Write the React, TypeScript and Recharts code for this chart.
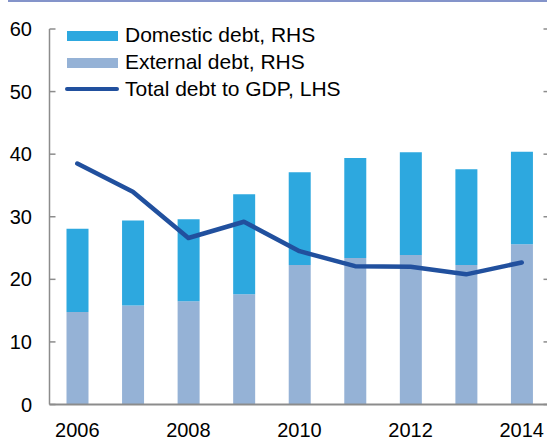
import React from 'react';
import { ComposedChart, Bar, Line, XAxis, YAxis } from 'recharts';

const years = ['2006', '2007', '2008', '2009', '2010', '2011', '2012', '2013', '2014'];
const externalDebt = [14.8, 15.8, 16.5, 17.6, 22.3, 23.4, 23.9, 22.3, 25.6];
const domesticDebt = [13.3, 13.6, 13.1, 16.0, 14.8, 16.0, 16.4, 15.3, 14.8];
const totalDebtToGDP = [38.5, 34.0, 26.6, 29.2, 24.5, 22.1, 22.0, 20.8, 22.7];
const yTicks = [0, 10, 20, 30, 40, 50, 60];

const seriesNames = ['Domestic debt, RHS', 'External debt, RHS', 'Total debt to GDP, LHS'];
const domesticColor = '#2DA8DF';
const externalColor = '#95B2D6';
const lineColor = '#21509E';
const axisColor = '#8C8C8C';
const FONT = '"Liberation Sans", Arial, sans-serif';

const data = years.map((year, i) => ({
  year,
  external: externalDebt[i],
  domestic: domesticDebt[i],
  total: totalDebtToGDP[i],
}));

const LeftTick = (props: any) => {
  const { x, y, payload } = props;
  return (
    <g>
      <line x1={x} x2={x + 6} y1={y} y2={y} stroke={axisColor} strokeWidth={1.5} />
      <text x={x - 17.5} y={y} dy={7} textAnchor="end" fontSize={20} fontFamily={FONT} fill="#000">
        {payload.value}
      </text>
    </g>
  );
};

const RightTick = (props: any) => {
  const { x, y } = props;
  return <line x1={x - 6} x2={x} y1={y} y2={y} stroke={axisColor} strokeWidth={1.5} />;
};

const BottomTick = (props: any) => {
  const { x, y, payload } = props;
  return (
    <text x={x} y={y + 32} textAnchor="middle" fontSize={20} fontFamily={FONT} fill="#000">
      {payload.value}
    </text>
  );
};

const LEGEND_FONT = 21;
const legendItems = [
  { name: seriesNames[0], kind: 'bar', color: domesticColor, swatchTop: 31.3, baseline: 42 },
  { name: seriesNames[1], kind: 'bar', color: externalColor, swatchTop: 58, baseline: 69 },
  { name: seriesNames[2], kind: 'line', color: lineColor, swatchTop: 86.5, baseline: 96 },
];

export default function App() {
  return (
    <div
      style={{
        position: 'absolute',
        left: 0,
        top: 0,
        width: 547,
        height: 441,
        overflow: 'hidden',
        background: '#fff',
      }}
    >
      <div style={{ position: 'absolute', left: 8, top: 0, width: 539, height: 2, background: '#8494CA' }} />
      <ComposedChart
        width={560}
        height={441}
        data={data}
        margin={{ top: 29, right: 0, bottom: 0, left: 0 }}
        barSize={22}
      >
        <XAxis
          dataKey="year"
          height={36.5}
          interval={1}
          tickLine={false}
          tickSize={0}
          tickMargin={0}
          axisLine={{ stroke: axisColor, strokeWidth: 2 }}
          tick={<BottomTick />}
        />
        <YAxis
          yAxisId="left"
          domain={[0, 60]}
          ticks={yTicks}
          width={49.5}
          tickLine={false}
          tickSize={0}
          tickMargin={0}
          axisLine={{ stroke: axisColor, strokeWidth: 1.5 }}
          tick={<LeftTick />}
        />
        <YAxis
          yAxisId="right"
          orientation="right"
          domain={[0, 60]}
          ticks={yTicks}
          width={10.5}
          tickLine={false}
          tickSize={0}
          tickMargin={0}
          axisLine={false}
          tick={<RightTick />}
        />
        <Bar yAxisId="right" dataKey="external" stackId="a" fill={externalColor} name={seriesNames[1]} isAnimationActive={false} />
        <Bar yAxisId="right" dataKey="domestic" stackId="a" fill={domesticColor} name={seriesNames[0]} isAnimationActive={false} />
        <Line
          yAxisId="left"
          dataKey="total"
          type="linear"
          stroke={lineColor}
          strokeWidth={4.5}
          strokeLinecap="round"
          strokeLinejoin="round"
          dot={false}
          name={seriesNames[2]}
          isAnimationActive={false}
        />
      </ComposedChart>
      <div style={{ position: 'absolute', left: 0, top: 0, pointerEvents: 'none' }}>
        {legendItems.map((item) => (
          <div key={item.name}>
            {item.kind === 'bar' ? (
              <div
                style={{
                  position: 'absolute',
                  left: 67,
                  top: item.swatchTop,
                  width: 51,
                  height: 10,
                  background: item.color,
                }}
              />
            ) : (
              <div
                style={{
                  position: 'absolute',
                  left: 65,
                  top: item.swatchTop,
                  width: 54,
                  height: 4.5,
                  borderRadius: 2.25,
                  background: item.color,
                }}
              />
            )}
            <div
              style={{
                position: 'absolute',
                left: 125,
                top: item.baseline - 0.8465 * LEGEND_FONT,
                height: LEGEND_FONT,
                lineHeight: `${LEGEND_FONT}px`,
                fontSize: LEGEND_FONT,
                fontFamily: FONT,
                color: '#000',
                whiteSpace: 'nowrap',
              }}
            >
              {item.name}
            </div>
          </div>
        ))}
      </div>
    </div>
  );
}
